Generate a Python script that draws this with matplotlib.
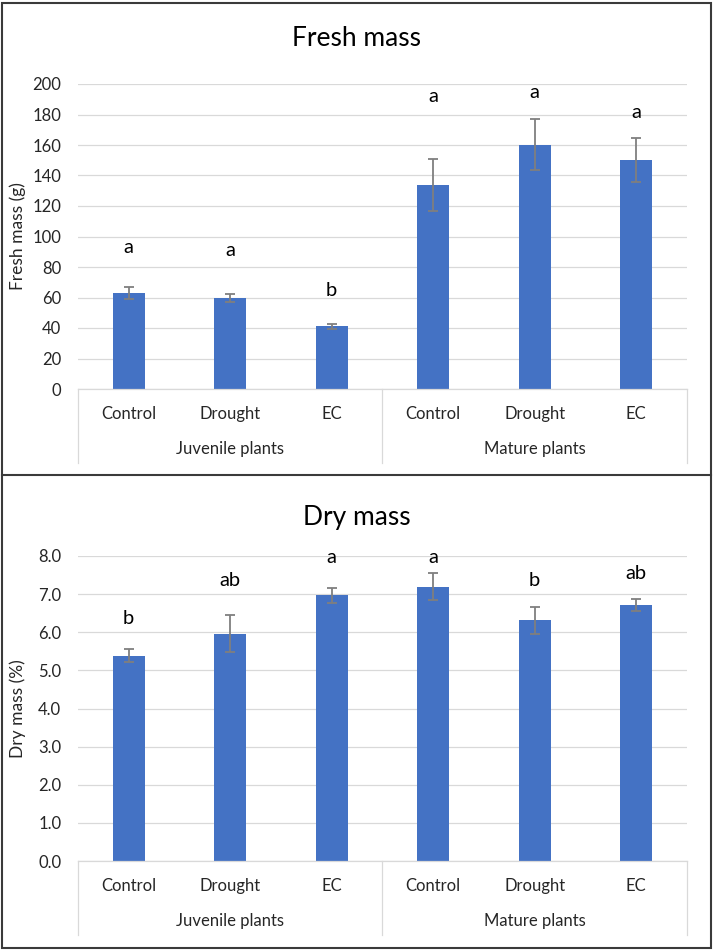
import matplotlib.pyplot as plt
from matplotlib.patches import Rectangle
from matplotlib.lines import Line2D

plt.rcParams["font.family"] = ["Lato", "DejaVu Sans"]

treatments = ["Control", "Drought", "EC", "Control", "Drought", "EC"]
groups = ["Juvenile plants", "Mature plants"]

fresh_mass = [63.0, 59.5, 41.0, 133.6, 160.2, 150.0]
fresh_err = [4.1, 2.6, 1.6, 16.9, 16.7, 14.4]
fresh_letters = ["a", "a", "b", "a", "a", "a"]
fresh_letter_y = [89, 87, 61, 188, 191, 178]

dry_mass = [5.39, 5.96, 6.97, 7.20, 6.31, 6.72]
dry_err = [0.17, 0.49, 0.19, 0.35, 0.35, 0.16]
dry_letters = ["b", "ab", "a", "a", "b", "ab"]
dry_letter_y = [6.22, 7.20, 7.81, 7.81, 7.20, 7.40]

W, H = 714, 950
BAR = "#4472C4"
GRID = "#D9D9D9"
TXT = "#262626"


def px_box(l, t, r, b):
    return [l / W, 1 - b / H, (r - l) / W, (b - t) / H]


def panel(rect, title, title_y, ylabel, values, errs, letters, letter_y, ymax, step, fmt):
    ax = fig.add_axes(px_box(*rect))
    x = list(range(len(values)))
    ax.bar(x, values, width=0.315, color=BAR, zorder=2)
    ax.errorbar(x, values, yerr=errs, fmt="none", ecolor="#7F7F7F",
                elinewidth=1.3, capsize=3.3, capthick=1.3, zorder=3)
    for xi, lab, ly in zip(x, letters, letter_y):
        ax.text(xi, ly, lab, ha="center", va="baseline", fontsize=14.5, color="black")
    ax.set_xlim(-0.5, len(values) - 0.5)
    ax.set_ylim(0, ymax)
    ticks = [i * step for i in range(int(round(ymax / step)) + 1)]
    ax.set_yticks(ticks)
    ax.set_yticklabels([fmt.format(t) for t in ticks])
    ax.tick_params(axis="y", length=0, pad=12, labelsize=12, labelcolor=TXT)
    ax.set_xticks([])
    ax.grid(axis="y", color=GRID, lw=0.9, zorder=0)
    ax.set_axisbelow(True)
    for s in ["top", "right", "left"]:
        ax.spines[s].set_visible(False)
    ax.spines["bottom"].set_color(GRID)
    ax.spines["bottom"].set_linewidth(0.9)

    # two-level category axis below the plot
    h_px = rect[3] - rect[1]
    depth = 74 / h_px
    for xv in [-0.5, 2.5, 5.5]:
        ax.add_line(Line2D([xv, xv], [0, -depth], color=GRID, lw=0.9,
                           transform=ax.get_xaxis_transform(), clip_on=False))
    for xi, lab in zip(x, treatments):
        ax.text(xi, -25 / h_px, lab, ha="center", va="center", fontsize=12,
                color=TXT, transform=ax.get_xaxis_transform())
    for gi, g in enumerate(groups):
        ax.text(1 + 3 * gi, -60 / h_px, g, ha="center", va="center", fontsize=12,
                color=TXT, transform=ax.get_xaxis_transform())

    fig.text(357 / W, 1 - title_y / H, title, ha="center", va="center",
             fontsize=19, color="black")
    fig.text(18 / W, 1 - ((rect[1] + rect[3]) / 2) / H, ylabel, rotation=90,
             ha="center", va="center", fontsize=12.5, color=TXT)
    return ax


fig = plt.figure(figsize=(W / 100, H / 100), dpi=100)

panel((78, 84, 687, 389), "Fresh mass", 38, "Fresh mass (g)",
      fresh_mass, fresh_err, fresh_letters, fresh_letter_y, 200, 20, "{:.0f}")
panel((78, 556, 687, 861), "Dry mass", 517, "Dry mass (%)",
      dry_mass, dry_err, dry_letters, dry_letter_y, 8.0, 1.0, "{:.1f}")

# panel borders
fig.patches.append(Rectangle((2 / W, 2 / H), 709 / W, 945 / H, fill=False,
                             ec="#3A3A3A", lw=1.5, transform=fig.transFigure))
fig.add_artist(Line2D([2 / W, 711 / W], [1 - 475 / H, 1 - 475 / H],
                      color="#3A3A3A", lw=1.5, transform=fig.transFigure))

fig.savefig("out.png", dpi=100)
